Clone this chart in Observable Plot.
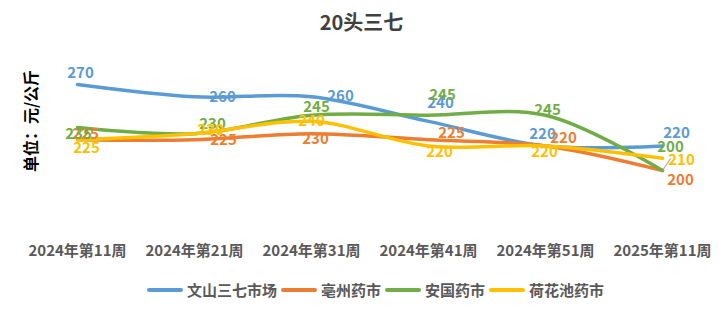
<!DOCTYPE html>
<html>
<head>
<meta charset="utf-8">
<script src="https://cdn.jsdelivr.net/npm/d3@7"></script>
<script src="https://cdn.jsdelivr.net/npm/@observablehq/plot@0.6"></script>
<style>
  body { margin: 0; background: #fff; font-family: "Noto Sans CJK SC", "Noto Sans", sans-serif; }
  #wrap { position: relative; width: 721px; height: 321px; overflow: hidden; }
  #title { height: 44px; line-height: 44px; text-align: center; font-size: 20px; font-weight: bold; color: #404040; padding-left: 2px; }
  #ylabel { position: absolute; left: 30px; top: 121px; transform: translate(-50%, -50%) rotate(-90deg); font-size: 16px; font-weight: bold; color: #000; white-space: nowrap; line-height: 1; }
  #legend { position: absolute; left: 147px; top: 279px; display: flex; align-items: center; font-size: 15px; font-weight: bold; color: #595959; white-space: nowrap; }
  .sw { width: 36px; height: 4px; border-radius: 2px; margin-right: 4px; }
  .lab { margin-right: 4px; }
</style>
</head>
<body>
<div id="wrap">
  <div id="title"></div>
  <div id="chart"></div>
  <div id="ylabel"></div>
  <div id="legend"></div>
</div>
<script>
const chartTitle = "20头三七";
const yLabel = "单位：元/公斤";
const weeks = ["2024年第11周", "2024年第21周", "2024年第31周", "2024年第41周", "2024年第51周", "2025年第11周"];
const seriesNames = ["文山三七市场", "亳州药市", "安国药市", "荷花池药市"];
const wenshan = [270, 260, 260, 240, 220, 220];
const bozhou = [225, 225, 230, 225, 220, 200];
const anguo = [235, 230, 245, 245, 245, 200];
const hehuachi = [225, 230, 240, 220, 220, 210];
const colors = ["#5B9BD5", "#ED7D31", "#70AD47", "#FFC000"];

// label layout (pixel offsets of each data label from its point)
const labelOffsets = [
  [[3, -11], [28, 0], [29, -1], [12, -18], [-3, -12], [14, -13]],
  [[8, -6], [29, 0], [4, 6], [23, -7], [18, -8], [18, 10]],
  [[1, 7], [18, -9], [5, -8], [14, -20], [2, -5], [8, -23]],
  [[9, 8], [16, -3], [0, 0], [11, 6], [-1, 6], [19, 2]]
];

const seriesValues = [wenshan, bozhou, anguo, hehuachi];
const data = seriesNames.flatMap((s, i) => weeks.map((w, j) => ({series: s, week: w, value: seriesValues[i][j], si: i, wi: j})));

document.getElementById("title").textContent = chartTitle;
document.getElementById("ylabel").textContent = yLabel;

const labelMarks = data.map(d => Plot.text([d], {
  x: "week", y: "value", text: d => String(d.value),
  dx: labelOffsets[d.si][d.wi][0], dy: labelOffsets[d.si][d.wi][1],
  fill: colors[d.si], fontSize: 15, fontWeight: "bold"
}));

const chart = Plot.plot({
  width: 721, height: 226,
  marginTop: 0, marginBottom: 72, marginLeft: 30, marginRight: 0,
  style: {fontFamily: "'Noto Sans CJK SC', sans-serif", overflow: "visible", background: "transparent"},
  x: {type: "point", domain: weeks, range: [77, 662], padding: 0},
  y: {domain: [200, 270], range: [126, 40], axis: null},
  color: {domain: seriesNames, range: colors},
  marks: [
    Plot.axisX({tickSize: 0, tickPadding: 47, fontSize: 15, fontWeight: "bold", fill: "#595959", label: null}),
    Plot.line(data, {x: "week", y: "value", z: "series", stroke: "series", curve: "catmull-rom", strokeWidth: 3.5, strokeLinecap: "round", strokeLinejoin: "round"}),
    Plot.vector([{week: weeks[weeks.length - 1], value: bozhou[bozhou.length - 1]}], {
      x: "week", y: "value", length: 14, rotate: 34, anchor: "start", stroke: "#a6a6a6", strokeWidth: 1,
      shape: {draw(context, l) { context.moveTo(0, 0); context.lineTo(0, -l); }}
    }),
    ...labelMarks
  ]
});
document.getElementById("chart").appendChild(chart);

const legend = document.getElementById("legend");
seriesNames.forEach((s, i) => {
  const sw = document.createElement("div");
  sw.className = "sw";
  sw.style.background = colors[i];
  const t = document.createElement("span");
  t.className = "lab";
  t.textContent = s;
  legend.appendChild(sw);
  legend.appendChild(t);
});
</script>
</body>
</html>
